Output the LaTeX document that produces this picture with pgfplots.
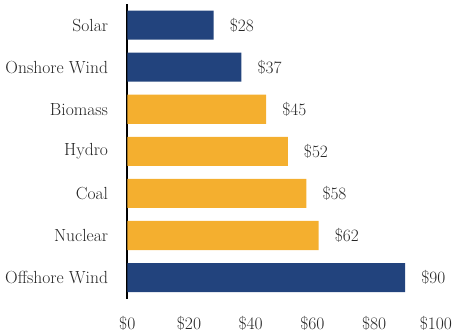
\documentclass[border=0pt]{standalone}
\usepackage{fontspec}
\usepackage{pgfplots}
\pgfplotsset{compat=1.18}
\definecolor{navy}{RGB}{34,67,125}
\definecolor{gold}{RGB}{244,175,47}
\begin{document}
\begin{tikzpicture}
\begin{axis}[
  scale only axis,
  width=308pt, height=294pt,
  xbar, bar width=29pt, bar shift=0pt,
  xmin=0, xmax=100,
  ymin=-0.5, ymax=6.5,
  y dir=reverse,
  axis y line*=left,
  axis x line*=bottom,
  x axis line style={draw=none},
  y axis line style={black, line width=1.6pt, -},
  major tick length=0pt,
  xtick={0,20,40,60,80,100},
  xticklabels={\$0,\$20,\$40,\$60,\$80,\$100},
  ytick={0,1,2,3,4,5,6},
  yticklabels={Solar,Onshore Wind,Biomass,Hydro,Coal,Nuclear,Offshore Wind},
  tick label style={font=\fontsize{17.5}{20}\selectfont, text=black!85},
  yticklabel style={inner sep=0pt, xshift=-19pt},
  xticklabel style={inner sep=0pt, yshift=-18pt},
  nodes near coords={\$\pgfmathprintnumber{\pgfplotspointmeta}},
  point meta=x,
  nodes near coords style={font=\fontsize{17.5}{20}\selectfont, text=black!85, anchor=west, inner sep=0pt, xshift=16pt},
]
\addplot[draw=none, fill=navy] coordinates {(28,0) (37,1) (90,6)};
\addplot[draw=none, fill=gold] coordinates {(45,2) (52,3) (58,4) (62,5)};
\end{axis}
\path (current axis.north west) ++(0,4pt);
\path (current axis.south west) ++(-127pt,-35pt);
\end{tikzpicture}
\end{document}
